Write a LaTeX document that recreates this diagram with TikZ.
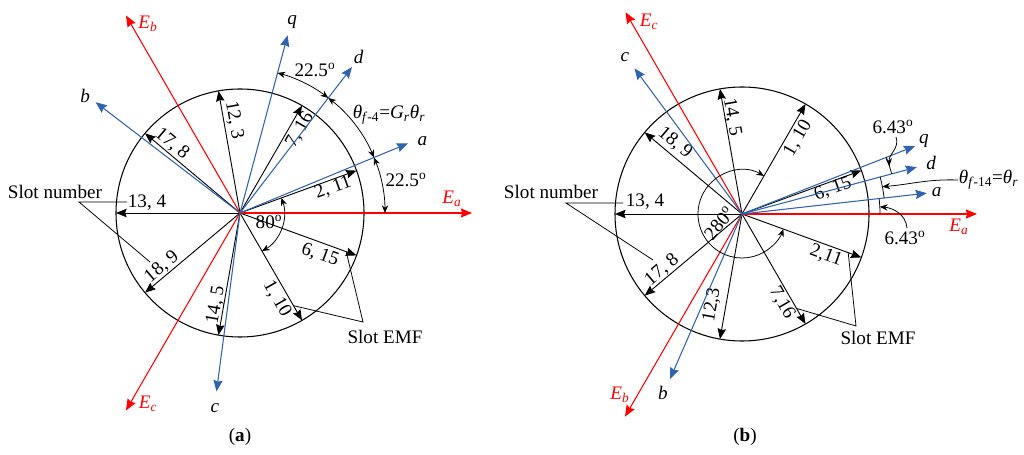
\documentclass[tikz,border=0pt]{standalone}
\usepackage{fontspec}
\setmainfont{Liberation Serif}
\usetikzlibrary{arrows.meta,calc}
\definecolor{axisblue}{RGB}{47,99,173}
\definecolor{emfred}{RGB}{255,0,0}
\newcommand{\sym}[2]{\textit{#1}\textsubscript{#2}}
\newcommand{\dg}{\textsuperscript{o}}

\begin{document}
\begin{tikzpicture}[x=0.025cm,y=0.025cm,
  every node/.style={font=\fontsize{13.6}{15}\selectfont,inner sep=0.5pt},
  slotemf/.style={line width=0.65pt,-{Stealth[length=7.5pt,width=6pt,inset=1pt]}},
  phaseemf/.style={emfred,line width=0.75pt,-{Stealth[length=8pt,width=6.5pt,inset=1pt]}},
  dqaxis/.style={axisblue,line width=0.75pt,-{Stealth[length=8pt,width=6.5pt,inset=1pt]}},
  anglemark/.style={line width=0.55pt,{Stealth[length=5.5pt,width=4.5pt]}-{Stealth[length=5.5pt,width=4.5pt]}},
  anglebare/.style={line width=0.55pt},
  pointer/.style={line width=0.55pt},
  pointarrow/.style={line width=0.55pt,-{Stealth[length=5.5pt,width=4.5pt]}}]
\useasboundingbox (0,0) rectangle (1024,454);

% ---------- (a) ----------
\coordinate (Oa) at (240,241);
\draw[line width=0.75pt] (Oa) circle[radius=124];
% slot EMF phasors
\draw[slotemf] (Oa) -- ++(20:124) coordinate (a2);
\draw[slotemf] (Oa) -- ++(60:124) coordinate (a7);
\draw[slotemf] (Oa) -- ++(100:124) coordinate (a12);
\draw[slotemf] (Oa) -- ++(140:124) coordinate (a17);
\draw[slotemf] (Oa) -- ++(180:124) coordinate (a13);
\draw[slotemf] (Oa) -- ++(220:124) coordinate (a18);
\draw[slotemf] (Oa) -- ++(260:124) coordinate (a14);
\draw[slotemf] (Oa) -- ++(300:124) coordinate (a1);
\draw[slotemf] (Oa) -- ++(340:124) coordinate (a6);
\node[rotate=20] at ($(Oa)+(93,25)$) {2, 11};
\node[rotate=60] at ($(Oa)+(60,83)$) {7, 16};
\node[rotate=-80] at ($(Oa)+(-6,93)$) {12, 3};
\node[rotate=-40] at ($(Oa)+(-68,69)$) {17, 8};
\node at ($(Oa)+(-93,10)$) {13, 4};
\node[rotate=40] at ($(Oa)+(-78,-54)$) {18, 9};
\node[rotate=80] at ($(Oa)+(-24,-92)$) {14, 5};
\node[rotate=-60] at ($(Oa)+(37,-86)$) {1, 10};
\node[rotate=-20] at ($(Oa)+(80,-42)$) {6, 15};
% phase EMFs
\draw[phaseemf] (Oa) -- ++(0:232) coordinate (aEa);
\draw[phaseemf] (Oa) -- ++(120:228) coordinate (aEb);
\draw[phaseemf] (Oa) -- ++(240:228) coordinate (aEc);
\node[text=emfred] at ($(Oa)+(212,14)$) {\sym{E}{\textit{a}}};
\node[text=emfred] at ($(Oa)+(-92,189)$) {\sym{E}{\textit{b}}};
\node[text=emfred] at ($(Oa)+(-92,-191)$) {\sym{E}{\textit{c}}};
% winding and dq axes
\draw[dqaxis] (Oa) -- ++(22.5:182) coordinate (aa);
\draw[dqaxis] (Oa) -- ++(142.5:182) coordinate (ab);
\draw[dqaxis] (Oa) -- ++(262.5:180) coordinate (ac);
\draw[dqaxis] (Oa) -- ++(52.5:184) coordinate (ad);
\draw[dqaxis] (Oa) -- ++(75:184) coordinate (aq);
\node at ($(Oa)+(21.5:196)$) {\textit{a}};
\node at ($(Oa)+(143:194)$) {\textit{b}};
\node at ($(Oa)+(262.7:197)$) {\textit{c}};
\node at ($(Oa)+(52.7:196)$) {\textit{d}};
\node at ($(Oa)+(74.7:198)$) {\textit{q}};
% angles
\draw[anglemark] ($(Oa)+(-60:44)$) arc[start angle=-60,end angle=20,radius=44];
\node at ($(Oa)+(29,-9)$) {80\dg};
\draw[anglemark] ($(Oa)+(0:145)$) arc[start angle=0,end angle=22.5,radius=145];
\draw[anglemark] ($(Oa)+(22.5:145)$) arc[start angle=22.5,end angle=52.5,radius=145];
\draw[anglemark] ($(Oa)+(52.5:145)$) arc[start angle=52.5,end angle=75,radius=145];
\node at ($(Oa)+(166,33)$) {22.5\dg};
\node at ($(Oa)+(149,98)$) {\sym{θ}{\textit{f}-4}=\sym{G}{\textit{r}}\sym{θ}{\textit{r}}};
\node at ($(Oa)+(75,143)$) {22.5\dg};
% callouts
\node (anum) at ($(Oa)+(-185,21)$) {Slot number};
\coordinate (anumv) at ($(Oa)+(-161,11)$);
\draw[pointer] ($(Oa)+(-113,11)$) -- (anumv) -- ($(Oa)+(-90,-49)$);
\node (aemf) at ($(Oa)+(145,-124)$) {Slot EMF};
\coordinate (aemfv) at ($(Oa)+(123,-109)$);
\draw[pointer] ($(Oa)+(340:113)$) -- (aemfv) -- ($(Oa)+(300:107)$);
\node at (240,17) {(\textbf{a})};

% ---------- (b) ----------
\coordinate (Ob) at (742,240);
\draw[line width=0.75pt] (Ob) circle[radius=127];
% slot EMF phasors
\draw[slotemf] (Ob) -- ++(20:127) coordinate (b6);
\draw[slotemf] (Ob) -- ++(60:127) coordinate (b1);
\draw[slotemf] (Ob) -- ++(100:127) coordinate (b14);
\draw[slotemf] (Ob) -- ++(140:127) coordinate (b18);
\draw[slotemf] (Ob) -- ++(180:127) coordinate (b13);
\draw[slotemf] (Ob) -- ++(220:127) coordinate (b17);
\draw[slotemf] (Ob) -- ++(260:127) coordinate (b12);
\draw[slotemf] (Ob) -- ++(300:127) coordinate (b7);
\draw[slotemf] (Ob) -- ++(340:127) coordinate (b2);
\node[rotate=20] at ($(Ob)+(91,25)$) {6, 15};
\node[rotate=60] at ($(Ob)+(56,76)$) {1, 10};
\node[rotate=-80] at ($(Ob)+(-10,97)$) {14, 5};
\node[rotate=-40] at ($(Ob)+(-67,71)$) {18, 9};
\node at ($(Ob)+(-97,12)$) {13, 4};
\node[rotate=40] at ($(Ob)+(-80,-56)$) {17, 8};
\node[rotate=80] at ($(Ob)+(-30,-91)$) {12,3};
\node[rotate=-60] at ($(Ob)+(40,-89)$) {7,16};
\node[rotate=-20] at ($(Ob)+(84,-42)$) {2,11};
% phase EMFs
\draw[phaseemf] (Ob) -- ++(0:235) coordinate (bEa);
\draw[phaseemf] (Ob) -- ++(120:233) coordinate (bEc);
\draw[phaseemf] (Ob) -- ++(240:234) coordinate (bEb);
\node[text=emfred] at ($(Ob)+(217,-13)$) {\sym{E}{\textit{a}}};
\node[text=emfred] at ($(Ob)+(-93,192)$) {\sym{E}{\textit{c}}};
\node[text=emfred] at ($(Ob)+(-122,-181)$) {\sym{E}{\textit{b}}};
% winding and dq axes
\draw[dqaxis] (Ob) -- ++(6.43:186) coordinate (ba);
\draw[dqaxis] (Ob) -- ++(126.43:181) coordinate (bc);
\draw[dqaxis] (Ob) -- ++(246.43:180) coordinate (bb);
\draw[dqaxis] (Ob) -- ++(15:181) coordinate (bd);
\draw[dqaxis] (Ob) -- ++(21.43:186) coordinate (bq);
\node at ($(Ob)+(6.5:196)$) {\textit{a}};
\node at ($(Ob)+(126.7:196)$) {\textit{c}};
\node at ($(Ob)+(246.2:196)$) {\textit{b}};
\node at ($(Ob)+(15.2:196)$) {\textit{d}};
\node at ($(Ob)+(21.8:196)$) {\textit{q}};
% angles
\draw[anglemark] ($(Ob)+(60:44)$) arc[start angle=60,end angle=340,radius=44];
\node[rotate=50] at ($(Ob)+(-23,-9)$) {280\dg};
\draw[anglebare] ($(Ob)+(0:138)$) arc[start angle=0,end angle=6.43,radius=138];
\draw[anglebare] ($(Ob)+(6.43:143)$) arc[start angle=6.43,end angle=15,radius=143];
\draw[anglebare] ($(Ob)+(15:155)$) arc[start angle=15,end angle=21.43,radius=155];
\node (bq643) at ($(Ob)+(151,87)$) {6.43\dg};
\node[anchor=west] (btheta) at ($(Ob)+(216,34)$) {\sym{θ}{\textit{f}-14}=\sym{θ}{\textit{r}}};
\node (ba643) at ($(Ob)+(163,-24)$) {6.43\dg};
\draw[pointarrow] ($(Ob)+(154,77)$) to[out=-70,in=95] ($(Ob)+(18:155)$);
\draw[pointarrow] (btheta.west) to[out=178,in=5] ($(Ob)+(11:143)$);
\draw[pointarrow] ($(Ob)+(165,-14)$) to[out=95,in=-5] ($(Ob)+(3:138)$);
% callouts
\node (bnum) at ($(Ob)+(-191,22)$) {Slot number};
\coordinate (bnumv) at ($(Ob)+(-176,11)$);
\draw[pointer] ($(Ob)+(-119,11)$) -- (bnumv) -- ($(Ob)+(-89,-46)$);
\node (bemf) at ($(Ob)+(136,-124)$) {Slot EMF};
\coordinate (bemfv) at ($(Ob)+(114,-112)$);
\draw[pointer] ($(Ob)+(340:113)$) -- (bemfv) -- ($(Ob)+(300:109)$);
\node at (745,17) {(\textbf{b})};
\end{tikzpicture}
\end{document}
